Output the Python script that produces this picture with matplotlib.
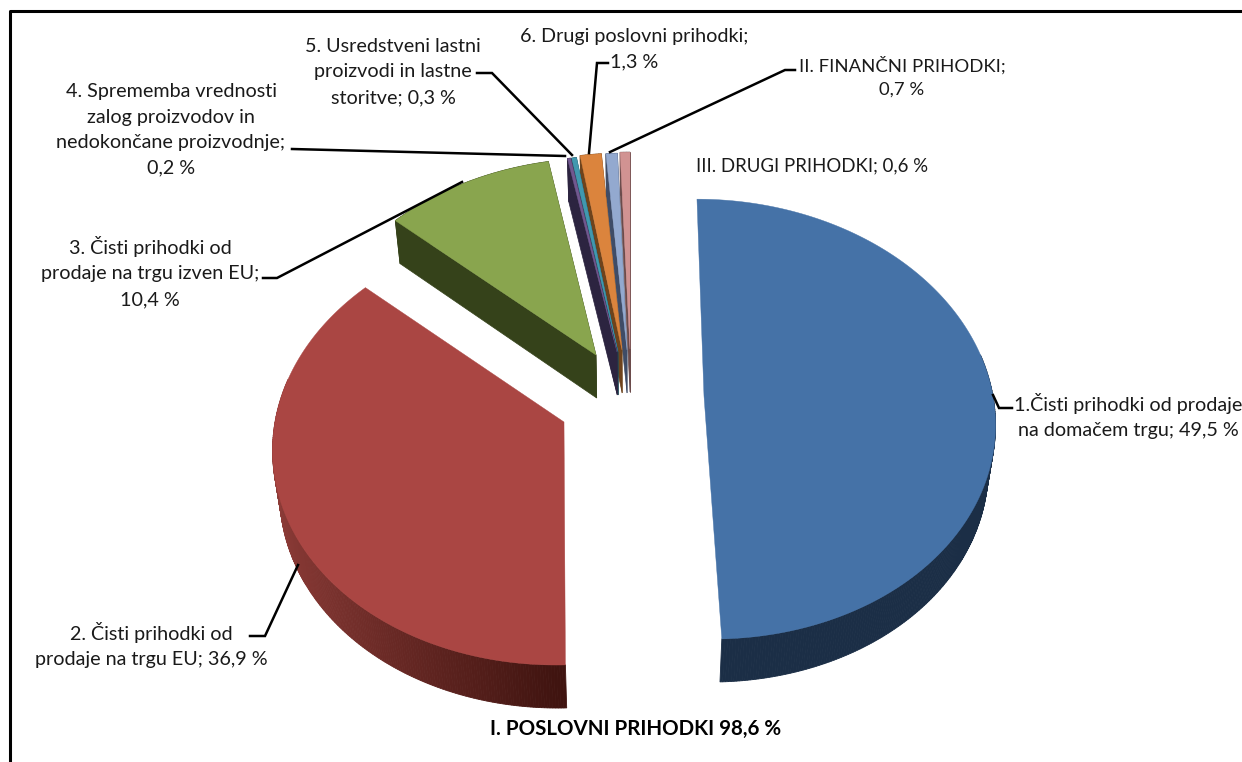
import numpy as np
import matplotlib
matplotlib.use("Agg")
import matplotlib.pyplot as plt
from matplotlib.patches import Polygon

# ---- data
labels = ["1.Čisti prihodki od prodaje\nna domačem trgu; 49,5 %",
          "2. Čisti prihodki od\nprodaje na trgu EU; 36,9 %",
          "3. Čisti prihodki od\nprodaje na trgu izven EU;\n10,4 %",
          "4. Sprememba vrednosti\nzalog proizvodov in\nnedokončane proizvodnje;\n0,2 %",
          "5. Usredstveni lastni\nproizvodi in lastne\nstoritve; 0,3 %",
          "6. Drugi poslovni prihodki;\n1,3 %",
          "II. FINANČNI PRIHODKI;\n0,7 %",
          "III. DRUGI PRIHODKI; 0,6 %"]
values = [49.5, 36.9, 10.4, 0.2, 0.3, 1.3, 0.7, 0.6]
total_label = "I. POSLOVNI PRIHODKI 98,6 %"

# ---- style / layout
top_colors = ["#4572a7", "#aa4643", "#89a54e", "#71588f", "#4198af", "#db843d", "#93a9cf", "#d19392"]
wall_near = ["#1b2e46", "#401410", "#35421a", "#2c2440", "#1f4a56", "#6e431c", "#3f4c66", "#6b4b4b"]
wall_far = ["#1b2e46", "#8e3c38", "#35421a", "#2c2440", "#1f4a56", "#6e431c", "#3f4c66", "#6b4b4b"]
show_radial = [False, False, True, True, True, True, True, True]
apex_x = [704, 564, 596, 617, 618, 622, 627, 630]
apex_y = [396, 422, 355, 352, 352, 350, 350, 349]
label_x = [1128, 151, 150, 171, 393, 634, 902, 812]
label_y = [416, 645, 272, 130, 72, 49, 77, 166]
label_size = [14.2, 14.2, 14.2, 14.2, 14.2, 14.2, 13.3, 13.4]
draw_order = [7, 6, 5, 4, 3, 2, 0, 1]
CX, RX, RY, K, DEPTH, LEAN = 630, 289, 217.5, 0.105, 43, 0.02

plt.rcParams['font.family'] = ['Lato', 'DejaVu Sans']
W, H = 1242, 762
fig = plt.figure(figsize=(W / 100, H / 100), dpi=100)
ax = fig.add_axes([0, 0, 1, 1])
ax.set_xlim(0, W)
ax.set_ylim(H, 0)
ax.axis("off")


def project(theta, rad, ax_, ay_):
    """clockwise-from-top angle (deg), radius fraction -> screen position"""
    t = np.radians(theta)
    u, v = rad * np.sin(t), rad * np.cos(t)
    w = 1 + K * v
    return CX + ((ax_ - CX) + RX * u) / w, ay_ - RY * v / w


def drop(x, y):
    return CX + (x - CX) * (1 - LEAN), y + DEPTH


def mix(c1, c2, f):
    a, b = np.array(matplotlib.colors.to_rgb(c1)), np.array(matplotlib.colors.to_rgb(c2))
    return tuple(a + (b - a) * f)


edges = np.concatenate([[0], np.cumsum(values)]) / sum(values) * 360
for i in draw_order:
    a0, a1 = edges[i], edges[i + 1]
    th = np.linspace(a0, a1, max(4, int((a1 - a0) * 2)))
    xs, ys = project(th, 1.0, apex_x[i], apex_y[i])
    bx, by = drop(xs, ys)
    px, py = apex_x[i], apex_y[i]
    qx, qy = drop(px, py)
    z = 2 + draw_order.index(i) * 10
    # radial walls
    if show_radial[i]:
        for j in (0, -1):
            pts = [(px, py), (xs[j], ys[j]), (bx[j], by[j]), (qx, qy)]
            c = wall_near[i]
            ax.add_patch(Polygon(pts, closed=True, fc=c, ec=c, lw=0.5, zorder=z))
    # outer wall (front part only where it shows)
    for j in range(len(th) - 1):
        f = np.clip(-np.sin(np.radians(th[j])), 0, 1)
        c = mix(wall_near[i], wall_far[i], f)
        pts = [(xs[j], ys[j]), (xs[j + 1], ys[j + 1]), (bx[j + 1], by[j + 1]), (bx[j], by[j])]
        if show_radial[i] or np.cos(np.radians(th[j])) < 0.2:
            ax.add_patch(Polygon(pts, closed=True, fc=c, ec=c, lw=0.6, zorder=z))
    # top face
    pts = np.column_stack([np.r_[px, xs], np.r_[py, ys]])
    ax.add_patch(Polygon(pts, closed=True, fc=top_colors[i], ec=top_colors[i], lw=0.3, zorder=z + 1))

# leader lines
leaders = [([993, 999, 1012], [395, 408, 408]),
           ([298, 265, 250], [565, 636, 636]),
           ([462, 277, 263], [182, 278, 278]),
           ([292, 565], [149, 156]),
           ([477, 492, 572], [73, 73, 155]),
           ([608, 597, 589], [63, 63, 153]),
           ([795, 785, 610], [70, 70, 152])]
for lx, ly in leaders:
    ax.plot(lx, ly, color="black", lw=1.8, zorder=200, solid_joinstyle="miter")

# labels
for s, x, y, fs in zip(labels, label_x, label_y, label_size):
    ax.text(x, y, s, ha="center", va="center", fontsize=fs, color="#1a1a1a",
            linespacing=1.6, zorder=210, clip_on=False)
ax.text(636, 729, total_label, ha="center", va="center", fontsize=14.8,
        fontweight="bold", color="black", zorder=210)

# frame
ax.plot([10, 10, W + 5], [H + 5, 11, 11], color="black", lw=2.2, zorder=220)

fig.savefig("out.png", dpi=100)
